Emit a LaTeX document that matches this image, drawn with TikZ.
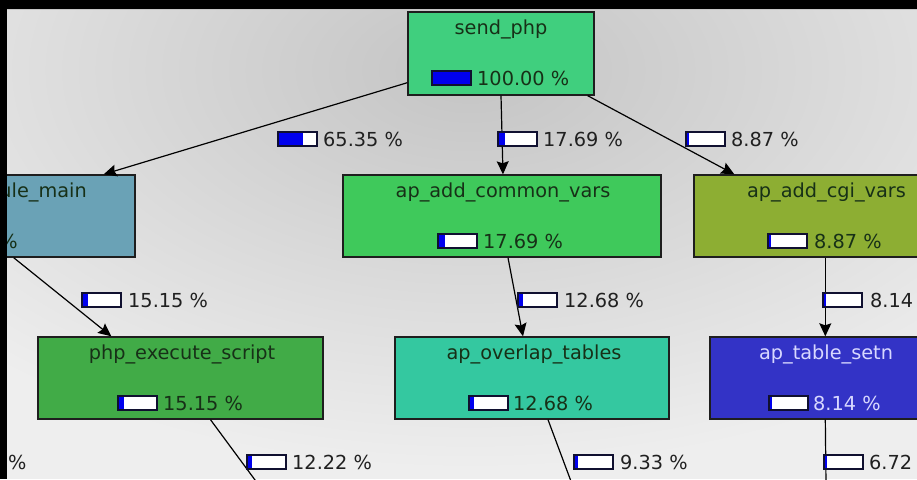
\documentclass[tikz,border=0pt]{standalone}
\usepackage{fontspec}
\setmainfont{DejaVu Sans}
\usetikzlibrary{arrows.meta}
\definecolor{bgL}{HTML}{EEEEEE}
\definecolor{bgD}{HTML}{C4C4C4}
\definecolor{boxline}{HTML}{1E1E1E}
\definecolor{txtD}{HTML}{173017}
\definecolor{txtL}{HTML}{D8D8FF}
\definecolor{txtE}{HTML}{202020}
\definecolor{barblue}{HTML}{0000EE}
\definecolor{barline}{HTML}{101030}
\definecolor{cSend}{HTML}{40CF7E}
\definecolor{cCommon}{HTML}{3FC95B}
\definecolor{cMM}{HTML}{6AA2B6}
\definecolor{cCgi}{HTML}{8DAE33}
\definecolor{cPhp}{HTML}{41AB47}
\definecolor{cOver}{HTML}{34C8A0}
\definecolor{cSetn}{HTML}{3333C6}
\newcommand\fsz{\fontsize{19.3pt}{23pt}\selectfont}
\newcommand\pctbar[3]{%
  \fill[white] (#1,#2) rectangle ++(39,14);
  \fill[barblue] (#1,#2) rectangle ++({39*#3},14);
  \draw[barline, line width=1.1pt] (#1,#2) rectangle ++(39,14);}
\begin{document}
\begin{tikzpicture}[x=1pt,y=-1pt,
  fbox/.style={draw=boxline, line width=1.4pt, rectangle, inner sep=0pt},
  title/.style={inner sep=0pt, text=txtD, font=\fsz},
  lbl/.style={inner sep=0pt, text=txtE, font=\fsz},
  edge/.style={draw=black, line width=1.2pt, -{Stealth[length=13pt,width=12pt,inset=2pt]}},
  plain/.style={draw=black, line width=1.2pt}]
\useasboundingbox (0,0) rectangle (917,479);
\begin{scope}
\clip (0,0) rectangle (917,479);
\fill[bgL] (0,0) rectangle (917,479);
\shade[inner color=bgD, outer color=bgL] (470,70) ellipse (700pt and 400pt);

% boxes
\node[fbox, fill=cSend, minimum width=186pt, minimum height=83pt] (send) at (501,53.5) {};
\node[fbox, fill=cMM, minimum width=235pt, minimum height=82pt] (mm) at (17.5,216) {};
\node[fbox, fill=cCommon, minimum width=318pt, minimum height=82pt] (common) at (502,216) {};
\node[fbox, fill=cCgi, minimum width=266pt, minimum height=82pt] (cgi) at (827,216) {};
\node[fbox, fill=cPhp, minimum width=285pt, minimum height=82pt] (php) at (180.5,378) {};
\node[fbox, fill=cOver, minimum width=274pt, minimum height=82pt] (over) at (532,378) {};
\node[fbox, fill=cSetn, minimum width=250pt, minimum height=82pt] (setn) at (835,378) {};

% off-frame ends
\coordinate (phpOut) at (258,484);
\coordinate (overOut) at (572,484);
\coordinate (setnOut) at (826,484);

% connectors
\draw[edge] ([yshift=13pt]send.south west) -- ([xshift=-32pt]mm.north east);
\draw[edge] (send.south) -- ([xshift=1pt]common.north);
\draw[edge] ([xshift=-7pt]send.south east) -- ([xshift=41pt]cgi.north west);
\draw[edge] ([xshift=-122pt]mm.south east) -- ([xshift=74pt]php.north west);
\draw[edge] ([xshift=6pt]common.south) -- ([xshift=-9pt]over.north);
\draw[edge] ([xshift=132pt]cgi.south west) -- ([xshift=116pt]setn.north west);
\draw[plain] ([xshift=30pt]php.south) -- (phpOut);
\draw[plain] ([xshift=16pt]over.south) -- (overOut);
\draw[plain] ([xshift=116pt]setn.south west) -- (setnOut);

% titles
\node[title, anchor=base] (sendT) at (501,34.5) {send\_php};
\node[title, anchor=base east] (mmT) at (87,197.5) {ule\_main};
\node[title, anchor=base] (commonT) at (503,197.5) {ap\_add\_common\_vars};
\node[title, anchor=base] (cgiT) at (826.5,197.5) {ap\_add\_cgi\_vars};
\node[title, anchor=base] (phpT) at (182,359.5) {php\_execute\_script};
\node[title, anchor=base] (overT) at (534,359.5) {ap\_overlap\_tables};
\node[title, anchor=base, text=txtL] (setnT) at (826,359.5) {ap\_table\_setn};

% in-box percentages
\pctbar{432}{71}{1}
\node[title, anchor=base west] (sendP) at (477,85) {100.00 \%};
\node[title, anchor=base east] (mmP) at (18,248) {\%};
\pctbar{438}{234}{0.1769}
\node[title, anchor=base west] (commonP) at (483,248) {17.69 \%};
\pctbar{768}{234}{0.0887}
\node[title, anchor=base west] (cgiP) at (814,248) {8.87 \%};
\pctbar{118}{396}{0.1515}
\node[title, anchor=base west] (phpP) at (163,410) {15.15 \%};
\pctbar{469}{396}{0.1268}
\node[title, anchor=base west] (overP) at (513,410) {12.68 \%};
\pctbar{769}{396}{0.0814}
\node[title, anchor=base west, text=txtL] (setnP) at (813,410) {8.14 \%};

% edge labels
\pctbar{278}{132}{0.6535}
\node[lbl, anchor=base west] (e1) at (323,146) {65.35 \%};
\pctbar{498}{132}{0.1769}
\node[lbl, anchor=base west] (e2) at (543,146) {17.69 \%};
\pctbar{686}{132}{0.0887}
\node[lbl, anchor=base west] (e3) at (731,146) {8.87 \%};
\pctbar{82}{293}{0.1515}
\node[lbl, anchor=base west] (e4) at (128,307) {15.15 \%};
\pctbar{518}{293}{0.1268}
\node[lbl, anchor=base west] (e5) at (564,307) {12.68 \%};
\pctbar{823}{293}{0.0814}
\node[lbl, anchor=base west] (e6) at (870,307) {8.14};
\pctbar{247}{455}{0.1222}
\node[lbl, anchor=base west] (e7) at (292,469) {12.22 \%};
\pctbar{574}{455}{0.0933}
\node[lbl, anchor=base west] (e8) at (620,469) {9.33 \%};
\pctbar{824}{455}{0.0672}
\node[lbl, anchor=base west] (e9) at (869,469) {6.72};

% black frame strips
\fill[black] (0,0) rectangle (917,9);
\fill[black] (0,0) rectangle (7,479);
\draw[gray!45, line width=1pt] (7,9.5) -- (917,9.5);
\node[lbl, anchor=base west] (e10) at (8,469) {\%};
\end{scope}
\end{tikzpicture}
\end{document}
